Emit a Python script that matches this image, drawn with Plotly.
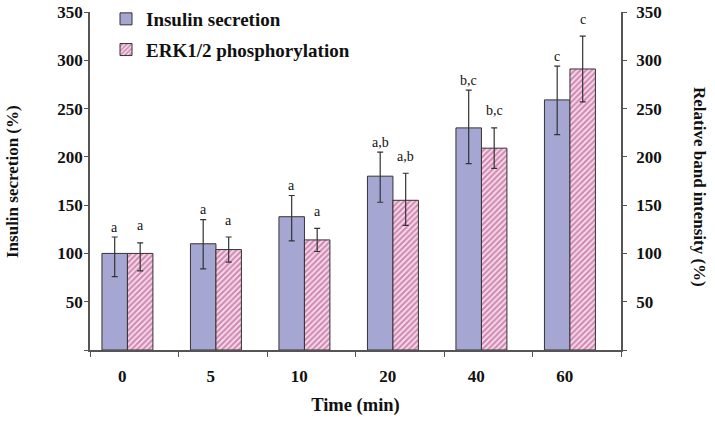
import plotly.graph_objects as go

categories = ["0", "5", "10", "20", "40", "60"]
insulin = [100, 110, 138, 180, 230, 259]
insulin_err_plus = [17, 25, 22, 25, 39, 35]
insulin_err_minus = [24, 26, 25, 27, 37, 36]
erk = [100, 104, 114, 155, 209, 291]
erk_err_plus = [11, 13, 12, 28, 21, 34]
erk_err_minus = [18, 13, 12, 26, 21, 34]
insulin_letters = ["a", "a", "a", "a,b", "b,c", "c"]
erk_letters = ["a", "a", "a", "a,b", "b,c", "c"]
y_ticks = [0, 50, 100, 150, 200, 250, 300, 350]

FONT = "Liberation Serif, Times New Roman, serif"
AX = "#555555"
idx = list(range(len(categories)))

BW = 0.288
OFF1 = -0.365
OFF2 = OFF1 + BW

fig = go.Figure()
fig.add_trace(go.Bar(
    x=idx, y=insulin, name="<b>Insulin secretion</b>", width=BW, offset=OFF1,
    marker=dict(color="#A6A6D3", line=dict(color="#333333", width=1)),
    error_y=dict(type="data", symmetric=False, array=insulin_err_plus,
                 arrayminus=insulin_err_minus, color="#333333", thickness=1.2, width=3),
    legendgroup="g1", yaxis="y",
))
fig.add_trace(go.Bar(
    x=idx, y=erk, name="<b>ERK1/2 phosphorylation</b>", width=BW, offset=OFF2,
    marker=dict(color="#F3D3E6", line=dict(color="#333333", width=1),
                pattern=dict(shape="/", fgcolor="#A8357A", bgcolor="#F9E0EE",
                             size=4, solidity=0.55)),
    error_y=dict(type="data", symmetric=False, array=erk_err_plus,
                 arrayminus=erk_err_minus, color="#333333", thickness=1.2, width=3),
    legendgroup="g2", yaxis="y2",
))

ann = []
for i in idx:
    ann.append(dict(x=i + OFF1 + BW / 2, y=insulin[i] + insulin_err_plus[i], xref="x", yref="y",
                    text=insulin_letters[i], showarrow=False, xanchor="center", yanchor="middle", yshift=10,
                    font=dict(family=FONT, size=14, color="#111")))
    ann.append(dict(x=i + OFF2 + BW / 2, y=erk[i] + erk_err_plus[i], xref="x", yref="y",
                    text=erk_letters[i], showarrow=False, xanchor="center", yanchor="middle", yshift=17,
                    font=dict(family=FONT, size=14, color="#111")))

W, H = 715, 425
ML, MT = 90, 12
MR = W - 621
MB = H - 350
PW, PH = W - ML - MR, H - MT - MB

def px(xp, yp):
    return (xp - ML) / PW, (H - MB - yp) / PH

lx, ly = px(12, 182)
rx, ry = px(700, 187)
ann.append(dict(x=lx, y=ly, xref="paper", yref="paper", text="<b>Insulin secretion (%)</b>",
                showarrow=False, textangle=-90, xanchor="center", yanchor="middle",
                font=dict(family=FONT, size=17, color="#111")))
ann.append(dict(x=rx, y=ry, xref="paper", yref="paper", text="<b>Relative band intensity (%)</b>",
                showarrow=False, textangle=90, xanchor="center", yanchor="middle",
                font=dict(family=FONT, size=17, color="#111")))

legx, legy = px(106, 0)
ytext = ["" if v == 0 else str(v) for v in y_ticks]
fig.update_layout(
    width=W, height=H,
    margin=dict(l=ML, r=MR, t=MT, b=MB, pad=0, autoexpand=False),
    paper_bgcolor="white", plot_bgcolor="white",
    barmode="overlay",
    showlegend=True,
    legend=dict(x=legx, y=legy, xanchor="left", yanchor="top",
                traceorder="grouped", tracegroupgap=3, bgcolor="rgba(0,0,0,0)",
                font=dict(family=FONT, size=19, color="#111"), itemwidth=30),
    annotations=ann,
    xaxis=dict(range=[-0.5, len(categories) - 0.5], tickvals=idx, ticktext=[f"<b>{c}</b>" for c in categories],
               ticks="", ticklabelshift=-12, ticklabelstandoff=10, automargin=False,
               showline=True, linecolor=AX, linewidth=1.5, showgrid=False, zeroline=False,
               tickfont=dict(family=FONT, size=17, color="#111"),
               minor=dict(tickvals=[i - 0.5 for i in range(len(categories) + 1)], ticks="outside",
                          ticklen=5, tickcolor=AX, tickwidth=1.2),
               title=dict(text="<b>Time (min)</b>", font=dict(family=FONT, size=18.5, color="#111"),
                          standoff=13)),
    yaxis=dict(range=[0, 350], tickvals=y_ticks, ticktext=[f"<b>{t}</b>" for t in ytext],
               ticks="outside", ticklen=4, tickcolor=AX, showline=True, linecolor=AX, linewidth=1.5,
               showgrid=False, zeroline=False, ticklabelstandoff=-2, automargin=False,
               ticklabeloverflow="allow",
               tickfont=dict(family=FONT, size=17, color="#111")),
    yaxis2=dict(range=[0, 350], tickvals=y_ticks, ticktext=[f"<b>{t}</b>" for t in ytext],
                overlaying="y", side="right", anchor="x", automargin=False,
                ticks="outside", ticklen=4, tickcolor=AX, showline=True, linecolor=AX, linewidth=1.5,
                showgrid=False, zeroline=False, ticklabelstandoff=6, ticklabeloverflow="allow",
                tickfont=dict(family=FONT, size=17, color="#111")),
)

fig.write_html("out.html", config={"displayModeBar": False},
               post_script="document.body.style.margin='0px';document.body.style.overflow='hidden';")
